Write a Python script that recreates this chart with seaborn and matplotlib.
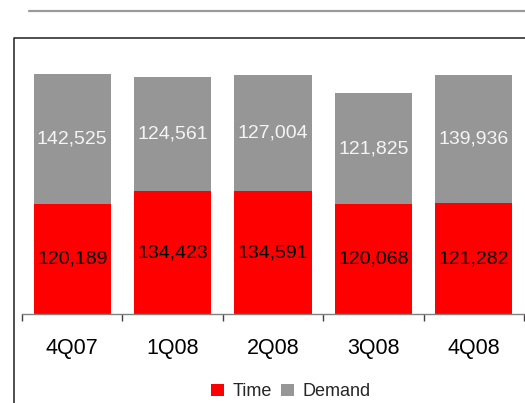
import matplotlib
matplotlib.use("Agg")
import matplotlib.pyplot as plt
import seaborn as sns
import pandas as pd
from matplotlib.patches import Patch
from matplotlib.lines import Line2D
from matplotlib.ticker import FixedLocator

quarters = ["4Q07", "1Q08", "2Q08", "3Q08", "4Q08"]
time_vals = [120189, 134423, 134591, 120068, 121282]
demand_vals = [142525, 124561, 127004, 121825, 139936]

RED = "#FF0000"
GRAY = "#969696"

sns.set_theme(style="white")
plt.rcParams["font.family"] = ["Liberation Sans", "DejaVu Sans"]

df = pd.DataFrame({"quarter": quarters, "time": time_vals, "demand": demand_vals})
df["total"] = df["time"] + df["demand"]

W, H = 525, 403
fig = plt.figure(figsize=(W / 100, H / 100), dpi=100)
ax = fig.add_axes([22 / W, 1 - 314 / H, (524 - 22) / W, 274 / H])

sns.barplot(data=df, x="quarter", y="total", color=GRAY, width=0.77,
            saturation=1, ax=ax, edgecolor="none", linewidth=0)
sns.barplot(data=df, x="quarter", y="time", color=RED, width=0.77,
            saturation=1, ax=ax, edgecolor="none", linewidth=0)

ax.set_xlim(-0.5, len(quarters) - 0.5)
ax.set_ylim(0, 300000)
ax.set_xlabel("")
ax.set_ylabel("")
ax.set_yticks([])
for s in ["top", "left", "right"]:
    ax.spines[s].set_visible(False)
ax.spines["bottom"].set_color("#808080")
ax.spines["bottom"].set_linewidth(1.0)

ax.tick_params(axis="x", which="major", length=0, pad=17, labelsize=15.5,
               labelcolor="black")
ax.xaxis.set_minor_locator(FixedLocator([i - 0.5 for i in range(len(quarters) + 1)]))
ax.tick_params(axis="x", which="minor", bottom=True, length=5, width=1.0,
               color="#404040", direction="out")

for i, (t, d) in enumerate(zip(time_vals, demand_vals)):
    ax.text(i, t / 2, f"{t:,}", ha="center", va="center", fontsize=14, color="black")
    ax.text(i, t + d / 2, f"{d:,}", ha="center", va="center", fontsize=14,
            color="#F4F4F4")

handles = [Patch(facecolor=RED, edgecolor="none", label="Time"),
           Patch(facecolor=GRAY, edgecolor="none", label="Demand")]
fig.legend(handles=handles, loc="center", bbox_to_anchor=(0.554, 1 - 392 / H),
           ncol=2, frameon=False, fontsize=13, handlelength=0.72,
           handleheight=0.67, handletextpad=0.44, columnspacing=0.55,
           borderpad=0, borderaxespad=0)

# decorative lines: top gray rule and the frame
fig.add_artist(Line2D([29 / W, 1], [1 - 10.5 / H, 1 - 10.5 / H],
                      color="#9A9A9A", linewidth=1.6, transform=fig.transFigure))
fig.add_artist(Line2D([13.5 / W, 13.5 / W, 1], [0, 1 - 37.5 / H, 1 - 37.5 / H],
                      color="#303030", linewidth=1.2, transform=fig.transFigure))

fig.savefig("out.png", dpi=100)
